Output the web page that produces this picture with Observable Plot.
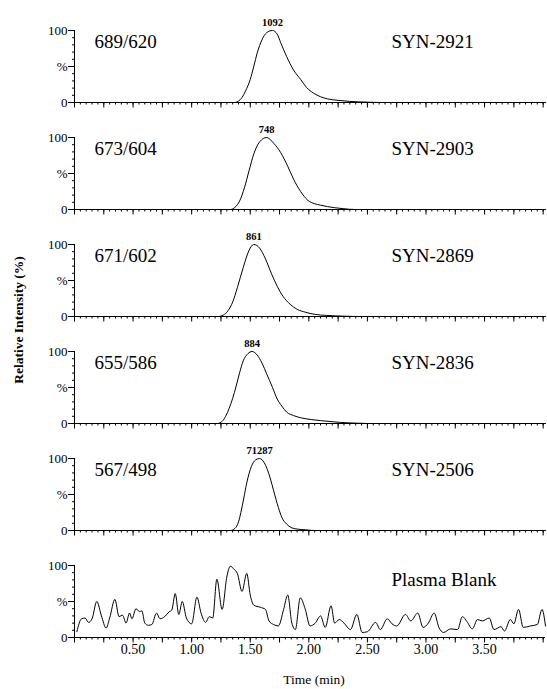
<!DOCTYPE html>
<html><head><meta charset="utf-8">
<script src="https://cdn.jsdelivr.net/npm/d3@7"></script>
<script src="https://cdn.jsdelivr.net/npm/@observablehq/plot@0.6"></script>
<style>body{margin:0;background:#fff}#chart{width:547px;height:689px}</style>
</head><body><div id="chart"></div>
<script>
// Panel identifiers (compound names) and MRM transitions
const panels = ["SYN-2921","SYN-2903","SYN-2869","SYN-2836","SYN-2506","Plasma Blank"];
const transitions = ["689/620","673/604","671/602","655/586","567/498",""];
const peakLabels = ["1092","748","861","884","71287"];
const peakTimes = [1.69,1.64,1.53,1.515,1.58];

// Traces: [time (min), relative intensity (%)]
const trace2921 = [[0,0],[1.37,0],[1.40,2],[1.43,7],[1.46,16],[1.50,32],[1.53,50],[1.56,69],[1.60,87],[1.64,97],[1.69,100],[1.73,95],[1.76,83],[1.81,64],[1.87,45],[1.93,32],[1.98,21],[2.04,13],[2.10,8],[2.16,5],[2.25,3],[2.35,1.5],[2.5,0.5],[2.6,0],[4.02,0]];
const trace2903 = [[0,0],[1.33,0],[1.37,3],[1.41,12],[1.45,30],[1.49,54],[1.53,77],[1.58,94],[1.64,100],[1.70,92],[1.76,79],[1.82,60],[1.87,42],[1.93,25],[1.99,13],[2.05,8],[2.10,6],[2.16,4],[2.22,2.5],[2.30,1],[2.40,0],[4.02,0]];
const trace2869 = [[0,0],[1.23,0],[1.27,2],[1.31,8],[1.35,20],[1.39,40],[1.44,68],[1.49,92],[1.53,100],[1.58,95],[1.63,80],[1.68,60],[1.73,42],[1.78,28],[1.84,17],[1.90,10],[1.97,6],[2.05,3],[2.15,1.5],[2.3,0.5],[2.4,0],[4.02,0]];
const trace2836 = [[0,0],[1.22,0],[1.26,3],[1.29,10],[1.32,21],[1.35,35],[1.38,52],[1.41,71],[1.44,87],[1.48,97],[1.515,100],[1.56,95],[1.60,84],[1.64,69],[1.69,50],[1.73,34],[1.77,24],[1.81,16],[1.87,11],[1.93,8],[2.02,5.5],[2.10,4],[2.2,2.5],[2.27,1.5],[2.4,0.5],[2.5,0],[4.02,0]];
const trace2506 = [[0,0],[1.33,0],[1.37,3],[1.40,12],[1.42,25],[1.445,45],[1.47,66],[1.51,89],[1.545,98],[1.58,100],[1.62,94],[1.67,73],[1.70,55],[1.74,32],[1.77,18],[1.81,9],[1.85,4],[1.90,2],[1.97,1],[2.05,0],[4.02,0]];
const traceBlank = [[0.02,8],[0.06,26],[0.09,27],[0.12,21],[0.15,26],[0.19,50],[0.23,30],[0.27,13],[0.30,27],[0.345,53],[0.38,29],[0.41,31],[0.44,20],[0.47,34],[0.49,26],[0.525,40],[0.555,36],[0.575,37],[0.60,20],[0.63,17],[0.66,18],[0.70,34],[0.73,26],[0.77,29],[0.81,36],[0.83,38],[0.86,61],[0.89,32],[0.92,50],[0.955,27],[1.00,19],[1.045,56],[1.08,34],[1.12,21],[1.15,29],[1.18,27],[1.215,81],[1.26,39],[1.30,84],[1.33,99],[1.36,95],[1.39,89],[1.43,64],[1.47,89],[1.50,59],[1.53,45],[1.585,42],[1.63,39],[1.66,23],[1.70,18],[1.74,16],[1.785,39],[1.82,59],[1.855,20],[1.885,11],[1.927,55],[1.97,39],[2.01,16],[2.055,20],[2.10,30],[2.14,14],[2.19,44],[2.22,20],[2.26,25],[2.30,20],[2.355,11],[2.41,32],[2.455,7],[2.50,8],[2.57,21],[2.61,11],[2.67,26],[2.71,19],[2.75,16],[2.825,32],[2.87,23],[2.93,34],[2.975,14],[3.02,20],[3.07,34],[3.11,14],[3.15,7],[3.21,12],[3.27,11],[3.31,29],[3.35,22],[3.395,12],[3.44,25],[3.48,23],[3.54,27],[3.58,11],[3.64,15],[3.67,9],[3.72,25],[3.75,19],[3.79,39],[3.83,14],[3.89,16],[3.95,18],[3.99,39],[4.02,16]];
const traces = [trace2921, trace2903, trace2869, trace2836, trace2506, traceBlank];

// Tick labels
const xTickValues = [0.5,1.0,1.5,2.0,2.5,3.0,3.5];
const xTickLabels = ["0.50","1.00","1.50","2.00","2.50","3.00","3.50"];
const yTickValues = [0,50,100];
const yTickLabels = ["0","%","100"];

const rows = [];
panels.forEach((p,i) => traces[i].forEach(([t,v]) => rows.push({panel:p, t, v})));
const peakRows = peakLabels.map((l,i) => ({panel:panels[i], t:peakTimes[i], label:l}));
const labelRows = panels.map((p,i) => ({panel:p, transition:transitions[i], name:p}));

const minorX = d3.range(0,81).map(i => i*0.05);
const majorX = d3.range(0,17).map(i => i*0.25);
const minorY = d3.range(0,11).map(i => i*10);

const serif = "Liberation Serif";

const plot = Plot.plot({
  width:547, height:689,
  marginTop:28, marginBottom:51, marginLeft:74, marginRight:2,
  style:{fontFamily:serif, background:"#fff", color:"#000", overflow:"visible"},
  x:{domain:[0,4.02]},
  y:{domain:[0,100]},
  fy:{domain:panels, paddingInner:0.331, paddingOuter:0, axis:null, label:null},
  marks:[
    Plot.ruleY([0], {stroke:"#000", strokeWidth:1}),
    Plot.ruleX([0], {y1:0, y2:100, stroke:"#000", strokeWidth:1}),
    Plot.axisX({ticks:minorX, tickSize:2.5, tickFormat:() => "", label:null, facetAnchor:null}),
    Plot.axisX({ticks:majorX, tickSize:5.5, tickFormat:() => "", label:null, facetAnchor:null}),
    Plot.axisX({ticks:xTickValues, tickSize:0, tickPadding:7, fontSize:14,
      tickFormat:d => xTickLabels[xTickValues.indexOf(d)], label:null}),
    Plot.axisY({ticks:minorY, tickSize:2, tickFormat:() => "", label:null}),
    Plot.axisY({ticks:yTickValues, tickSize:6, tickPadding:1, fontSize:13,
      tickFormat:d => yTickLabels[yTickValues.indexOf(d)], label:null}),
    Plot.line(rows, {x:"t", y:"v", fy:"panel", curve:"monotone-x", stroke:"#000", strokeWidth:1}),
    Plot.text(peakRows, {x:"t", y:() => 100, fy:"panel", text:"label", dy:-8, fontSize:10.5, fontWeight:"bold", fill:"#000"}),
    Plot.text(labelRows, {x:() => 0.17, y:() => 84, fy:"panel", text:"transition", textAnchor:"start", fontSize:19, fill:"#000"}),
    Plot.text(labelRows, {x:() => 2.705, y:(d) => d.name === "Plasma Blank" ? 80 : 84, fy:"panel", text:"name", textAnchor:"start", fontSize:19, fill:"#000"})
  ]
});
document.getElementById("chart").appendChild(plot);

const svg = d3.select(plot.tagName.toLowerCase() === "svg" ? plot : plot.querySelector("svg"));
svg.append("text")
  .attr("transform","translate(23,320) rotate(-90)")
  .attr("text-anchor","middle")
  .style("font-family",serif).style("font-size","13.5px").style("font-weight","bold")
  .attr("fill","#000")
  .text("Relative Intensity (%)");
svg.append("text")
  .attr("x",314).attr("y",684)
  .attr("text-anchor","middle")
  .style("font-family",serif).style("font-size","13.5px")
  .attr("fill","#000")
  .text("Time (min)");
</script></body></html>
